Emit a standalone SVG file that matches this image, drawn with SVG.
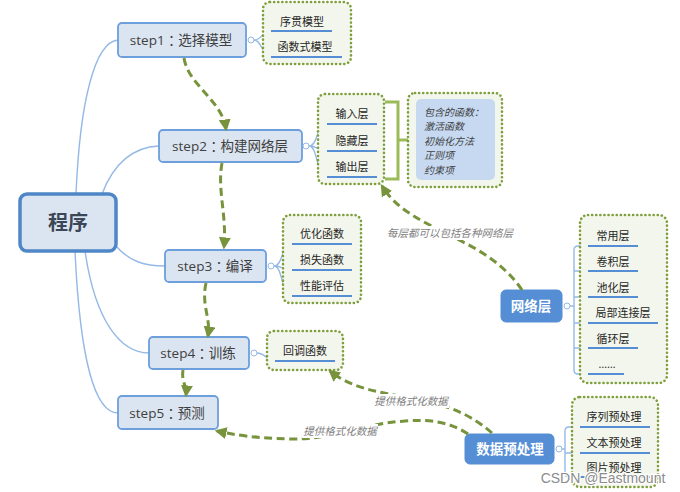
<svg xmlns="http://www.w3.org/2000/svg" width="680" height="492" viewBox="0 0 680 492">
<style>
text{font-family:"Open Sans","Noto Sans CJK SC",sans-serif}
.c{font-family:"Noto Sans CJK TC",sans-serif}
.step{fill:#dbe5f1;stroke:#6c9fdc;stroke-width:1.8}
.st{font-size:13.5px;fill:#404040;text-anchor:middle;dominant-baseline:central}
.grp{fill:#f3f6ec;stroke:#7f9f3c;stroke-width:2.6;stroke-dasharray:0.1 4;stroke-linecap:round}
.it{font-size:11px;fill:#262626;text-anchor:middle;dominant-baseline:central}
.ul{stroke:#558ed5;stroke-width:2.2;fill:none}
.br{stroke:#95b9e6;stroke-width:1.4;fill:none}
.dot{fill:#fff;stroke:#95b9e6;stroke-width:1}
.dash{stroke:#77933c;stroke-width:3;fill:none;stroke-dasharray:8 4.5;marker-end:url(#ah)}
.lab{font-size:10.5px;fill:#7f7f7f;font-style:italic;text-anchor:middle;dominant-baseline:central}
.blue{fill:#558ed5;stroke:#558ed5}
.bt{font-size:13.5px;fill:#fff;font-weight:bold;text-anchor:middle;dominant-baseline:central}
.info{font-size:10px;fill:#404040;font-style:italic}
</style>
<defs>
<marker id="ah" viewBox="0 0 10 10" refX="8" refY="5" markerWidth="12" markerHeight="12" markerUnits="userSpaceOnUse" orient="auto">
<path d="M0,0 L10,5 L0,10 z" fill="#77933c"/>
</marker>
</defs>
<rect width="680" height="492" fill="#fff"/>

<g id="branches">
<path class="br" d="M76,194 C80,100 95,42 118,40"/>
<path class="br" d="M102,194 C115,160 135,147 159,146"/>
<path class="br" d="M116,246 C130,262 145,266 165,266"/>
<path class="br" d="M85,251 C95,320 120,353 149,353"/>
<path class="br" d="M75,251 C80,360 95,413 118,413"/>
<path class="br" d="M254,40 C262,40 262,31 272,31 M254,40 C262,40 262,57 272,57"/>
<path class="br" d="M309,146 C318,146 316,124 328,124 M309,146 C318,146 318,151 328,151 M309,146 C318,146 316,177 328,177"/>
<path class="br" d="M274,266 C283,266 281,244 293,244 M274,266 C283,266 283,270 293,270 M274,266 C283,266 281,296 293,296"/>
<path class="br" d="M257,353 C266,353 266,361 276,361"/>
<path class="br" d="M570,306 H574 M589,246 H578 Q574,246 574,250 V370 Q574,374 578,374 H589 M574,271 H589 M574,297 H589 M574,323 H589 M574,348 H589"/>
<path class="br" d="M562,449 H565 M580,427 H569 Q565,427 565,431 V473 Q565,477 569,477 H580 M565,453 H580"/>
<path d="M385,102 H398 V179 H385 M398,140 H410" stroke="#9bbb59" stroke-width="3" fill="none"/>
</g>

<g id="root">
<rect x="20" y="194" width="96" height="57" rx="7" fill="#dbe5f1" stroke="#4f86c6" stroke-width="3.5"/>
<text x="68" y="222" font-size="20" font-weight="bold" fill="#3b4656" text-anchor="middle" dominant-baseline="central">程序</text>
</g>

<g id="step1">
<rect class="step" x="118" y="23" width="128" height="34" rx="4"/>
<text class="st" x="181" y="40">step1<tspan class="c">：</tspan>选择模型</text>
<circle class="dot" cx="251" cy="40" r="3"/>
</g>
<g id="step1-items">
<rect class="grp" x="263" y="2" width="88" height="62" rx="7"/>
<text class="it" x="302" y="21">序贯模型</text>
<line class="ul" x1="271" y1="31" x2="332" y2="31"/>
<text class="it" x="305" y="46">函数式模型</text>
<line class="ul" x1="271" y1="57" x2="342" y2="57"/>
</g>

<g id="step2">
<rect class="step" x="159" y="130" width="143" height="32" rx="4"/>
<text class="st" x="230" y="146">step2<tspan class="c">：</tspan>构建网络层</text>
<circle class="dot" cx="306" cy="146" r="3"/>
</g>
<g id="step2-items">
<rect class="grp" x="318" y="94" width="66" height="90" rx="7"/>
<text class="it" x="352" y="113">输入层</text>
<line class="ul" x1="327" y1="124" x2="377" y2="124"/>
<text class="it" x="352" y="140">隐藏层</text>
<line class="ul" x1="327" y1="151" x2="377" y2="151"/>
<text class="it" x="352" y="166">输出层</text>
<line class="ul" x1="327" y1="177" x2="377" y2="177"/>
</g>

<g id="layer-info">
<rect class="grp" x="408" y="93" width="94" height="94" rx="7"/>
<rect x="416" y="99" width="79" height="81" rx="5" fill="#c6d9f1"/>
<text class="info" x="424" y="116">包含的函数：</text>
<text class="info" x="424" y="130">激活函数</text>
<text class="info" x="424" y="145">初始化方法</text>
<text class="info" x="424" y="159">正则项</text>
<text class="info" x="424" y="174">约束项</text>
</g>

<g id="step3">
<rect class="step" x="165" y="250" width="101" height="32" rx="4"/>
<text class="st" x="215" y="266">step3<tspan class="c">：</tspan>编译</text>
<circle class="dot" cx="271" cy="266" r="3"/>
</g>
<g id="step3-items">
<rect class="grp" x="283" y="215" width="78" height="88" rx="7"/>
<text class="it" x="322" y="233">优化函数</text>
<line class="ul" x1="292" y1="244" x2="352" y2="244"/>
<text class="it" x="322" y="259">损失函数</text>
<line class="ul" x1="292" y1="270" x2="352" y2="270"/>
<text class="it" x="322" y="285">性能评估</text>
<line class="ul" x1="292" y1="296" x2="352" y2="296"/>
</g>

<g id="step4">
<rect class="step" x="149" y="337" width="100" height="32" rx="4"/>
<text class="st" x="198" y="353">step4<tspan class="c">：</tspan>训练</text>
<circle class="dot" cx="254" cy="353" r="3"/>
</g>
<g id="step4-items">
<rect class="grp" x="267" y="331" width="76" height="39" rx="7"/>
<text class="it" x="305" y="350">回调函数</text>
<line class="ul" x1="275" y1="361" x2="335" y2="361"/>
</g>

<g id="step5">
<rect class="step" x="118" y="396" width="100" height="33" rx="4"/>
<text class="st" x="167" y="413">step5<tspan class="c">：</tspan>预测</text>
</g>

<g id="network">
<rect class="blue" x="501" y="290" width="61" height="32" rx="5"/>
<text class="bt" x="531" y="306">网络层</text>
<circle class="dot" cx="567" cy="306" r="3"/>
</g>
<g id="network-items">
<rect class="grp" x="580" y="215" width="87" height="168" rx="8"/>
<text class="it" x="613" y="235">常用层</text>
<line class="ul" x1="588" y1="246" x2="638" y2="246"/>
<text class="it" x="613" y="261">卷积层</text>
<line class="ul" x1="588" y1="271" x2="638" y2="271"/>
<text class="it" x="613" y="287">池化层</text>
<line class="ul" x1="588" y1="297" x2="638" y2="297"/>
<text class="it" x="623" y="312">局部连接层</text>
<line class="ul" x1="588" y1="323" x2="658" y2="323"/>
<text class="it" x="613" y="338">循环层</text>
<line class="ul" x1="588" y1="348" x2="638" y2="348"/>
<text class="it" x="607" y="363">……</text>
<line class="ul" x1="588" y1="374" x2="624" y2="374"/>
</g>

<g id="preprocess">
<rect class="blue" x="465" y="434" width="89" height="30" rx="5"/>
<text class="bt" x="510" y="449">数据预处理</text>
<circle class="dot" cx="559" cy="449" r="3"/>
</g>
<g id="preprocess-items">
<rect class="grp" x="572" y="397" width="86" height="90" rx="8"/>
<text class="it" x="614" y="416">序列预处理</text>
<line class="ul" x1="580" y1="427" x2="650" y2="427"/>
<text class="it" x="614" y="442">文本预处理</text>
<line class="ul" x1="580" y1="453" x2="650" y2="453"/>
<text class="it" x="614" y="467">图片预处理</text>
<line class="ul" x1="580" y1="477" x2="650" y2="477"/>
</g>

<g id="connectors">
<path class="dash" d="M184,58 C188,85 222,100 226,129"/>
<path class="dash" d="M222,163 C217,190 227,215 224,247"/>
<path class="dash" d="M206,283 C201,305 211,318 208,336"/>
<path class="dash" d="M183,370 C181,382 187,385 186,395"/>
<path class="dash" d="M522,290 C505,265 480,250 455,238 C425,222 398,212 382,186"/>
<path class="dash" d="M492,433 C475,418 455,408 430,402 C395,394 355,392 330,371"/>
<path class="dash" d="M468,434 C450,422 430,419 405,421 C360,424 330,440 290,439 C255,438 235,435 217,431"/>
<rect x="386" y="226" width="128" height="14" fill="#fff"/>
<text class="lab" x="450" y="233">每层都可以包括各种网络层</text>
<rect x="373" y="394" width="76" height="14" fill="#fff"/>
<text class="lab" x="411" y="401">提供格式化数据</text>
<rect x="302" y="424" width="76" height="14" fill="#fff"/>
<text class="lab" x="340" y="431">提供格式化数据</text>
</g>

<text x="603" y="478" style="font-family:'Liberation Sans',Arial,sans-serif" font-size="14" fill="#8c8c8c" stroke="#fff" stroke-width="2.5" paint-order="stroke" text-anchor="middle" dominant-baseline="central">CSDN @Eastmount</text>
</svg>
